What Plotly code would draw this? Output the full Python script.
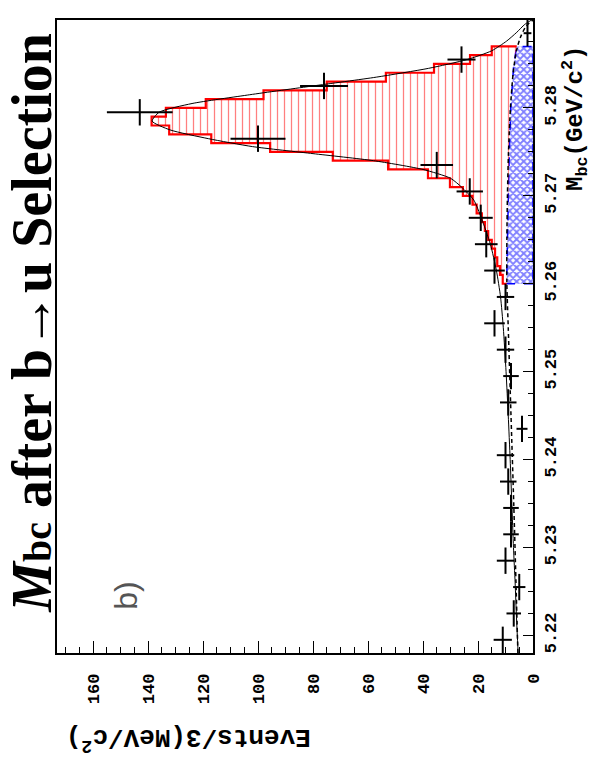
import numpy as np
import plotly.graph_objects as go

# ---- data: Mbc distribution in 3 MeV bins ----
mbc_centres = [5.2195, 5.2225, 5.2255, 5.2285, 5.2315, 5.2345, 5.2375, 5.2405,
               5.2435, 5.2465, 5.2495, 5.2525, 5.2555, 5.2585, 5.2615, 5.2645,
               5.2675, 5.2705, 5.2735, 5.2765, 5.2795, 5.2825, 5.2855, 5.2885]
events = [11, 7, 5, 10, 8, 8, 9, 10, 4, 9, 8, 10, 14, 10,
          14, 17, 19, 23, 35, 100, 143, 76, 26, 2]
half_bin = 0.0015

# ---- signal + background expectation in 1 MeV bins (signal box) ----
mc_edges = [5.260, 5.261, 5.262, 5.263, 5.264, 5.265, 5.266, 5.267, 5.268, 5.269,
            5.270, 5.271, 5.272, 5.273, 5.274, 5.275, 5.276, 5.277, 5.278, 5.279,
            5.280, 5.281, 5.282, 5.283, 5.284, 5.285, 5.286, 5.287]
mc_total = [11, 12, 13, 13.8, 15, 16.3, 17.5, 18.6, 20.5, 22, 25.5, 30.2, 38.2,
            52.7, 72.8, 95.6, 117, 132.3, 138.7, 133.5, 119, 98, 75, 53.5, 36,
            22.9, 15]

# ---- background component in the signal box ----
bkg_mass = [5.260, 5.265, 5.270, 5.275, 5.280, 5.283, 5.285, 5.287]
bkg_vals = [9.6, 9.3, 9.0, 8.6, 8.1, 7.6, 7.0, 5.9]

# ---- fit curves ----
argus_mass = [5.218, 5.225, 5.235, 5.245, 5.255, 5.260, 5.265, 5.270, 5.275,
              5.280, 5.284, 5.2865, 5.288, 5.2893, 5.290]
argus_vals = [5.5, 6.1, 7.0, 8.0, 9.0, 9.5, 9.5, 9.3, 8.9, 8.2, 7.2, 6.0, 4.6, 2.5, 0.0]

fit_mass = [5.218, 5.222, 5.226, 5.230, 5.235, 5.240, 5.245, 5.250, 5.255, 5.2585,
            5.2615, 5.2645, 5.2675, 5.2695, 5.2710, 5.2720, 5.2730, 5.2740, 5.2748,
            5.2756, 5.2765, 5.2775, 5.2785, 5.2795, 5.2805, 5.2815, 5.2825, 5.2835,
            5.2845, 5.2855, 5.2865, 5.2876, 5.2886, 5.2895, 5.2900]
fit_vals = [5.4, 6.0, 6.5, 7.1, 7.7, 8.3, 9.0, 9.8, 10.8, 11.8,
            13.3, 15.5, 18.8, 21.5, 26, 30, 40, 58, 80,
            102, 118, 132, 138.5, 136, 124, 103, 80, 57,
            38, 24, 15, 9.6, 5.9, 3.0, 0.5]

x_ticks = [0, 20, 40, 60, 80, 100, 120, 140, 160]
y_ticks = [5.22, 5.23, 5.24, 5.25, 5.26, 5.27, 5.28, 5.29]
y_tick_text = ["5.22", "5.23", "5.24", "5.25", "5.26", "5.27", "5.28", "5.29"]

# ---- build step outlines ----
edges = np.array(mc_edges)
step_y = np.repeat(edges, 2)[1:-1]
step_x = np.repeat(np.array(mc_total), 2)
outline_x = np.concatenate([[bkg_vals[0]], step_x, [bkg_vals[-1]]])
outline_y = np.concatenate([[mc_edges[0]], step_y, [mc_edges[-1]]])
sig_poly_x = np.concatenate([outline_x, bkg_vals[::-1]])
sig_poly_y = np.concatenate([outline_y, bkg_mass[::-1]])

bkg_poly_x = np.concatenate([[0], bkg_vals, [0], [0]])
bkg_poly_y = np.concatenate([[bkg_mass[0]], bkg_mass, [bkg_mass[-1]], [bkg_mass[0]]])

fig = go.Figure()

# background (blue cross-hatched)
fig.add_trace(go.Scatter(
    x=bkg_poly_x, y=bkg_poly_y, mode="lines", fill="toself",
    fillcolor="rgba(0,0,0,0)",
    fillpattern=dict(shape="x", fgcolor="#0000ff", bgcolor="rgba(255,255,255,0)",
                     size=5, solidity=0.6),
    line=dict(color="#0000ff", width=1.5, dash="dash"),
    hoverinfo="skip", showlegend=False))

# signal (red hatched)
fig.add_trace(go.Scatter(
    x=sig_poly_x, y=sig_poly_y, mode="lines", fill="toself",
    fillcolor="rgba(0,0,0,0)",
    fillpattern=dict(shape="|", fgcolor="#ff0000", bgcolor="rgba(255,255,255,0)",
                     size=7, solidity=0.18),
    line=dict(width=0),
    hoverinfo="skip", showlegend=False))

fig.add_trace(go.Scatter(
    x=outline_x, y=outline_y, mode="lines",
    line=dict(color="#ff0000", width=2.2),
    hoverinfo="skip", showlegend=False))

# fit curves
fig.add_trace(go.Scatter(
    x=argus_vals, y=argus_mass, mode="lines",
    line=dict(color="black", width=1.5, dash="4px,3px", shape="spline", smoothing=0.8),
    showlegend=False))
fig.add_trace(go.Scatter(
    x=fit_vals, y=fit_mass, mode="lines",
    line=dict(color="black", width=1, shape="spline", smoothing=0.6),
    showlegend=False))

# data points
fig.add_trace(go.Scatter(
    x=events, y=mbc_centres, mode="markers",
    marker=dict(size=1, color="black"),
    error_x=dict(type="data", array=np.sqrt(np.array(events, dtype=float)),
                 width=0, thickness=2, color="black"),
    error_y=dict(type="constant", value=half_bin, width=0, thickness=2, color="black"),
    showlegend=False))

tickfont = dict(family="Liberation Mono", size=17, color="black", weight="bold")

fig.update_xaxes(
    range=[173.1, 0], tickvals=x_ticks, tickangle=-90, tickfont=tickfont,
    ticks="inside", ticklen=12, tickwidth=1, tickcolor="black",
    minor=dict(dtick=5, tick0=0, ticks="inside", ticklen=6, tickcolor="black"),
    showline=True, linecolor="black", linewidth=1.5, mirror=True,
    showgrid=False, zeroline=False, ticklabelstandoff=12)
fig.update_yaxes(
    range=[5.218, 5.29], side="right", tickvals=y_ticks, ticktext=y_tick_text,
    tickangle=-90, tickfont=tickfont,
    ticks="inside", ticklen=10, tickwidth=1, tickcolor="black",
    minor=dict(dtick=0.0025, tick0=5.22, ticks="inside", ticklen=5, tickcolor="black"),
    showline=True, linecolor="black", linewidth=1.5, mirror=True,
    showgrid=False, zeroline=False, ticklabelstandoff=1)

fig.add_annotation(
    text="<i>M</i><span style=\"font-size:40px\">bc</span> after b\u2192u Selection",
    xref="paper", yref="paper", x=-0.054, y=0.522, showarrow=False,
    textangle=-90, xanchor="center", yanchor="middle",
    font=dict(family="Liberation Serif", size=56, color="black", weight="bold"))
fig.add_annotation(
    text="b)", xref="x", yref="y", x=148, y=5.2245, showarrow=False,
    textangle=-90, xanchor="center", yanchor="middle",
    font=dict(family="Liberation Sans", size=32, color="#555555"))
fig.add_annotation(
    text="<b>M</b><sub>bc</sub>(GeV/c<sup>2</sup>)",
    xref="paper", yref="paper", x=1.088, y=0.845, showarrow=False,
    textangle=-90, xanchor="center", yanchor="middle",
    font=dict(family="Liberation Mono", size=24, color="black", weight="bold"))
fig.add_annotation(
    text="Events/3(MeV/c<sup>2</sup>)",
    xref="paper", yref="paper", x=0.275, y=-0.136, showarrow=False,
    textangle=180, xanchor="center", yanchor="middle",
    font=dict(family="Liberation Mono", size=26, color="black", weight="bold"))

fig.update_layout(
    width=595, height=774,
    margin=dict(l=57, r=62, t=20, b=121),
    paper_bgcolor="white", plot_bgcolor="white",
    showlegend=False)

fig.write_html("out.html")
